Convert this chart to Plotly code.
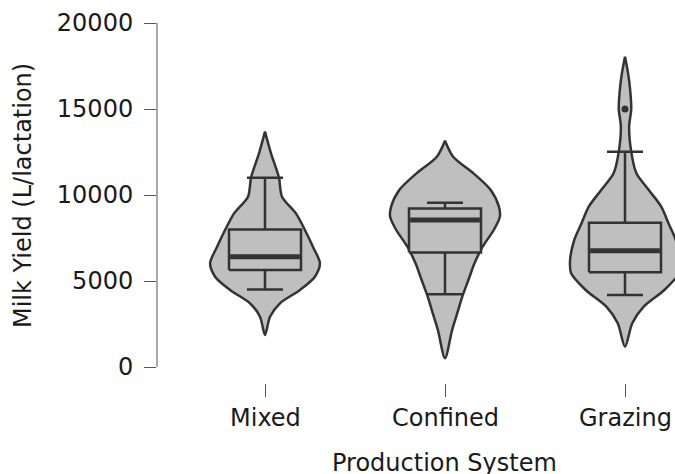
import plotly.graph_objects as go

categories = ["Mixed", "Confined", "Grazing"]

# violin outlines: yield values and relative density (half-width)
mixed_y = [1860, 2926, 3702, 4477, 5252, 6027, 6996, 7965, 8934, 9903, 11008, 12422, 13682]
mixed_d = [0, 5, 15, 35, 50, 55, 48, 40, 31, 17, 14, 6, 0]
confined_y = [504, 2151, 3120, 4089, 5058, 6027, 6996, 7965, 8740, 9322, 10291, 11260, 12229, 13159]
confined_d = [0, 7, 12, 17, 23, 29, 37, 48, 54, 53, 45, 28, 8, 0]
grazing_y = [1182, 2539, 3508, 4477, 5446, 6221, 7384, 8353, 9322, 10291, 11260, 12519, 13973, 15000, 16105, 17074, 18043]
grazing_d = [0, 7, 18, 38, 52, 53, 49, 42, 35, 23, 11, 6, 4, 6, 5, 3, 0]

# box statistics
q1 = [5640, 6650, 5505]
median = [6415, 8545, 6765]
q3 = [8000, 9220, 8390]
lower = [4500, 4225, 4186]
upper = [11000, 9555, 12520]
outlier_x = ["Grazing"]
outlier_y = [15000]

y_ticks = [0, 5000, 10000, 15000, 20000]

FILL = "#bfbfbf"
LINE = "#333333"
TICK = "#555555"
FONT = "DejaVu Sans"

fig = go.Figure()

violins = [(mixed_y, mixed_d), (confined_y, confined_d), (grazing_y, grazing_d)]
VW = 0.305  # max half width in category units
BW = 0.2    # box half width
CW = 0.1    # cap half width
for i, (ys, ds) in enumerate(violins):
    m = max(ds)
    right_x = [i + d / m * VW for d in ds]
    left_x = [i - d / m * VW for d in ds][::-1]
    fig.add_trace(go.Scatter(
        x=right_x + left_x, y=ys + ys[::-1], mode="lines", fill="toself",
        fillcolor=FILL, line=dict(color=LINE, width=2.5, shape="spline", smoothing=0.8),
        hoverinfo="skip", showlegend=False))

xs = list(range(len(categories)))

def seg(x0, x1, y0, y1, w=2.5):
    fig.add_trace(go.Scatter(x=[x0, x1], y=[y0, y1], mode="lines",
                             line=dict(color=LINE, width=w), showlegend=False, hoverinfo="skip"))

for i in xs:
    # whiskers
    seg(i, i, q3[i], upper[i])
    seg(i, i, q1[i], lower[i])
    seg(i - CW, i + CW, upper[i], upper[i])
    seg(i - CW, i + CW, lower[i], lower[i])
    # box
    fig.add_trace(go.Scatter(
        x=[i - BW, i + BW, i + BW, i - BW, i - BW], y=[q1[i], q1[i], q3[i], q3[i], q1[i]],
        mode="lines", fill="toself", fillcolor=FILL, line=dict(color=LINE, width=2.5),
        showlegend=False, hoverinfo="skip"))
    seg(i - BW + 0.006, i + BW - 0.006, median[i], median[i], w=5)

fig.add_trace(go.Scatter(x=[categories.index(c) for c in outlier_x], y=outlier_y, mode="markers",
                         marker=dict(color=LINE, size=7), showlegend=False, hoverinfo="skip"))

W, H = 675, 474
L, R, T, B = 157, 0, 23, 91
pw = W - L - R
ph = H - T - B

def px_x(p):
    return (p - L) / pw

def px_y(p):
    return (H - B - p) / ph

annotations = [
    dict(text="Milk Yield (L/lactation)", xref="paper", yref="paper",
         x=px_x(23), y=px_y(196), xanchor="center", yanchor="middle",
         textangle=-90, showarrow=False, font=dict(size=24)),
    dict(text="Production System", xref="paper", yref="paper",
         x=px_x(444), y=px_y(463), xanchor="center", yanchor="middle",
         showarrow=False, font=dict(size=24)),
]
for i, c in enumerate(categories):
    annotations.append(dict(text=c, xref="x", yref="paper", x=i, y=px_y(418),
                            xanchor="center", yanchor="middle", showarrow=False, font=dict(size=24)))

fig.update_layout(
    width=W, height=H, margin=dict(l=L, r=R, t=T, b=B),
    plot_bgcolor="white", paper_bgcolor="white",
    font=dict(family=FONT, size=24, color="#1a1a1a"),
    xaxis=dict(range=[-0.6, -0.6 + pw / 180], tickvals=xs, showticklabels=False,
               ticks="outside", ticklen=13, tickwidth=1, tickcolor=TICK,
               showgrid=False, zeroline=False, showline=False),
    yaxis=dict(range=[-930, 20000], tickvals=y_ticks, ticktext=[str(v) for v in y_ticks],
               ticks="outside", ticklen=12, tickwidth=1, tickcolor=TICK,
               showgrid=False, zeroline=False, showline=False, ticklabelstandoff=6),
    shapes=[dict(type="line", xref="paper", yref="y", x0=0, x1=0, y0=0, y1=20000,
                 line=dict(color=TICK, width=1))],
    annotations=annotations,
)

fig.write_html("out.html", config={"displayModeBar": False},
               post_script="document.body.style.margin='0';document.body.style.overflow='hidden';")
